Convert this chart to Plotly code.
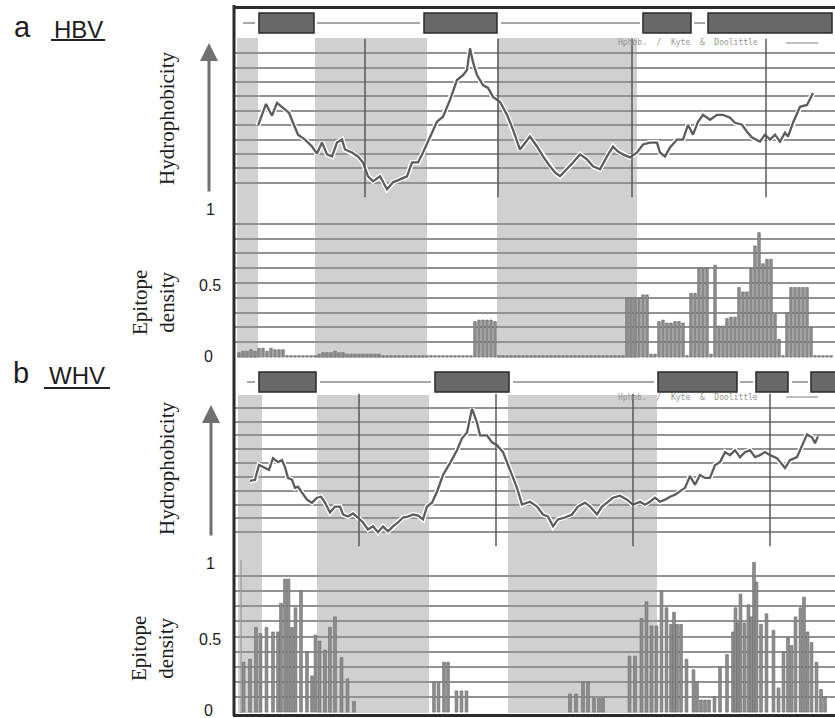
import plotly.graph_objects as go

W, H = 835, 718
def px(x): return x / W
def py(y): return 1 - y / H

# ---------------- data ----------------
# HBV hydrophobicity profile (position, value in grid units 0..11)
hbv_hyd_pos = [258,266,272,277,283,289,293,298,305,312,317,322,327,332,337,342,345,352,358,363,
               368,373,380,383,387,393,400,407,412,418,423,430,437,443,450,457,463,467,470,473,
               477,483,488,493,500,507,513,520,530,537,543,550,555,560,567,573,580,587,593,600,
               607,613,618,623,630,637,643,650,657,660,665,670,677,683,688,693,698,703,710,717,
               723,730,735,742,747,752,760,765,770,775,780,785,788,793,800,807,813]
hbv_hyd_val = [4.97,6.48,5.66,6.55,6.21,5.86,5.17,4.34,4.00,3.52,3.03,3.79,2.97,2.83,3.79,4.00,3.31,3.10,2.83,2.41,
               1.45,1.10,1.45,1.10,0.55,1.03,1.24,1.45,2.41,2.41,3.10,4.21,5.24,5.59,6.76,8.14,8.48,8.83,10.34,9.38,
               8.48,7.79,7.59,6.97,6.62,5.72,4.69,3.31,4.21,3.52,2.83,2.14,1.72,1.45,1.93,2.41,2.97,2.62,2.14,1.93,
               2.83,3.52,3.17,2.97,2.76,3.10,3.66,3.79,3.79,3.10,2.83,3.45,4.00,4.00,5.03,4.34,5.24,5.72,5.38,5.72,
               5.72,5.52,5.17,5.03,4.55,4.14,3.86,4.34,4.00,4.34,3.86,4.48,4.21,5.17,6.28,6.41,7.24]

# WHV hydrophobicity profile
whv_hyd_pos = [250,255,259,263,269,273,278,282,285,288,292,295,298,302,307,312,317,321,325,330,
               335,340,343,348,353,358,363,368,373,378,383,388,393,398,403,408,413,418,423,427,
               432,437,443,450,457,462,467,472,477,480,487,492,497,503,510,517,522,530,537,543,
               548,553,558,565,572,578,585,590,597,602,607,613,620,627,633,640,645,650,655,660,
               665,670,675,680,685,690,695,700,705,710,715,720,725,730,735,740,745,750,755,760,
               765,770,777,785,790,797,802,807,812,815,818]
whv_hyd_val = [4.71,4.79,5.86,5.71,5.50,6.36,6.07,6.21,5.71,4.93,4.79,4.21,4.29,3.86,3.36,3.14,3.50,3.57,3.14,2.43,
               2.86,2.86,2.29,2.14,2.36,2.07,1.71,1.21,1.43,1.00,1.43,1.07,1.43,1.71,2.07,2.14,2.29,2.21,1.93,2.86,
               3.14,3.93,5.14,6.00,6.93,7.79,8.21,9.93,8.93,8.00,8.00,7.50,7.29,6.79,5.50,4.21,3.00,3.21,2.86,2.29,
               2.14,1.43,1.93,2.07,2.29,2.86,3.14,2.86,2.29,2.86,3.14,3.50,3.64,3.36,3.00,3.21,3.00,3.21,3.50,3.21,
               3.36,3.57,3.71,3.93,4.21,5.07,4.43,5.14,4.93,4.93,5.86,6.07,6.79,6.57,6.93,6.43,6.79,6.93,6.43,6.57,
               6.79,6.57,6.36,5.64,6.21,6.43,7.29,8.07,7.86,7.43,7.93]

# HBV epitope density: windows every 4 positions starting at 239
hbv_epi_start = 239
hbv_epi_step = 4
hbv_epi_val = [0.03,0.04,0.04,0.05,0.04,0.06,0.06,0.04,0.06,0.05,0.05,0.05,
               0.01,0.01,0.01,0.01,0.01,0.01,0.01,0.01,
               0.02,0.03,0.03,0.03,0.04,0.03,0.03,0.02,0.02,0.02,0.02,0.02,0.02,0.02,0.02,0.02,0.01,
               0.01,0.01,0.01,0.01,0.01,0.01,0.01,0.01,0.01,0.01,0.01,0.01,0.01,0.01,0.01,0.01,0.01,0.01,0.01,0.01,0.01,0.01,
               0.24,0.25,0.25,0.25,0.25,0.24,
               0.01,0.01,0.01,0.01,0.01,0.01,0.01,0.01,0.01,0.01,0.01,0.01,0.01,0.01,0.01,0.01,
               0.01,0.01,0.01,0.01,0.01,0.01,0.01,0.01,0.01,0.01,0.01,0.01,0.01,0.01,0.01,0.01,
               0.40,0.40,0.40,0.40,0.42,0.42,
               0.02,0.02,
               0.24,0.25,0.23,0.23,0.24,0.24,0.23,
               0.01,
               0.43,0.43,
               0.60,0.60,0.60,
               0.02,
               0.62,
               0.21,0.21,0.26,0.27,0.27,
               0.47,0.44,0.44,0.60,0.75,0.84,0.63,0.66,0.66,0.29,0.12,
               0.01,
               0.30,
               0.47,0.47,0.47,0.47,0.47,
               0.20,
               0.01,0.01,0.01,0.01,0.01]

# WHV epitope density
whv_epi_pos = [243.5,250,256,260.5,266.5,273,278,281,285,288.5,292,295.5,301,307,312,315.5,319.5,325,330,335,341.5,347.5,354,
               434,438.5,444,448,456.5,461.5,466.5,
               570,576,583,588,594,599,603,
               629.5,635,641.5,646.5,651.5,656.5,661.5,666.5,671,674,677,681,686.5,693.5,697,701,705,709,714.5,720,727,
               733,735.5,738,740.5,744.5,748.5,751.5,754,756.5,761,766.5,773.5,778.5,783.5,788,791.5,795.5,800.5,804,
               807.5,811.5,816.5,821,825]
whv_epi_val = [0.33,0.35,0.56,0.52,0.56,0.53,0.53,0.72,0.88,0.88,0.56,0.69,0.80,0.40,0.24,0.51,0.47,0.41,0.56,0.63,0.36,0.22,0.07,
               0.20,0.20,0.33,0.33,0.14,0.14,0.14,
               0.12,0.12,0.20,0.20,0.09,0.09,0.09,
               0.37,0.37,0.62,0.73,0.57,0.57,0.80,0.69,0.58,0.66,0.58,0.58,0.35,0.28,0.20,0.08,0.08,0.08,0.10,0.30,0.38,
               0.53,0.69,0.59,0.78,0.59,0.71,0.63,0.99,0.86,0.58,0.65,0.54,0.16,0.40,0.49,0.44,0.63,0.69,0.76,
               0.53,0.46,0.33,0.15,0.10]

# shaded (hydrophilic) regions, domain boxes, linker segments, marker positions
hbv_shaded = [(237, 258), (315, 427), (497, 637)]
whv_shaded = [(238, 262), (317, 429), (508, 657)]
hbv_boxes = [(259, 314), (424, 497), (643, 691), (708, 832)]
hbv_links = [(243, 255), (317, 420), (501, 640), (694, 705)]
whv_boxes = [(259, 316), (435, 509), (658, 737), (756, 788), (811, 840)]
whv_links = [(247, 255), (320, 431), (513, 654), (740, 753), (792, 808)]
hbv_marks = [365, 498, 632, 766]
whv_marks = [359, 496, 633, 770]

epi_ticks = ["1", "0.5", "0"]

# ---------------- figure ----------------
GRID = "#929292"
SHADE = "#d0d0d0"
LINE = "#5c5c5c"
BAR = "#8e8e8e"
BAR_EDGE = "#666666"

fig = go.Figure()

def hyd(xs, ys, yax):
    fig.add_trace(go.Scatter(x=xs, y=ys, xaxis="x", yaxis=yax, mode="lines",
                             line=dict(color="white", width=5), hoverinfo="skip"))
    fig.add_trace(go.Scatter(x=xs, y=ys, xaxis="x", yaxis=yax, mode="lines",
                             line=dict(color=LINE, width=2.3)))

hyd(hbv_hyd_pos, hbv_hyd_val, "y")
hyd(whv_hyd_pos, whv_hyd_val, "y3")

hbv_epi_pos = [hbv_epi_start + hbv_epi_step * i for i in range(len(hbv_epi_val))]
fig.add_trace(go.Bar(x=hbv_epi_pos, y=hbv_epi_val, xaxis="x", yaxis="y2", width=2.6,
                     marker=dict(color=BAR, line=dict(color=BAR_EDGE, width=0.6))))
fig.add_trace(go.Bar(x=whv_epi_pos, y=whv_epi_val, xaxis="x", yaxis="y4", width=2.8,
                     marker=dict(color=BAR, line=dict(color=BAR_EDGE, width=0.6))))

shapes = []
for (a, b) in hbv_shaded:
    shapes.append(dict(type="rect", xref="x", yref="paper", x0=a, x1=b, y0=py(358), y1=py(38),
                       fillcolor=SHADE, line=dict(width=0), layer="below"))
for (a, b) in whv_shaded:
    shapes.append(dict(type="rect", xref="x", yref="paper", x0=a, x1=b, y0=py(713), y1=py(395),
                       fillcolor=SHADE, line=dict(width=0), layer="below"))
for m in hbv_marks:
    shapes.append(dict(type="line", xref="x", yref="y", x0=m, x1=m, y0=0, y1=11,
                       line=dict(color="#505050", width=1.4)))
for m in whv_marks:
    shapes.append(dict(type="line", xref="x", yref="y3", x0=m, x1=m, y0=0, y1=11,
                       line=dict(color="#505050", width=1.4)))

def domains(boxes, links, ymid, ytop, ybot):
    for (a, b) in links:
        shapes.append(dict(type="line", xref="x", yref="paper", x0=a, x1=b, y0=py(ymid), y1=py(ymid),
                           line=dict(color="#8a8a8a", width=1.5)))
    for (a, b) in boxes:
        shapes.append(dict(type="rect", xref="x", yref="paper", x0=a, x1=b, y0=py(ybot), y1=py(ytop),
                           fillcolor="#686868", line=dict(color="#2a2a2a", width=1.5)))
domains(hbv_boxes, hbv_links, 23, 13, 33)
domains(whv_boxes, whv_links, 382, 372, 392)

shapes.append(dict(type="line", xref="paper", yref="paper", x0=px(241), x1=px(241), y0=py(713), y1=py(560),
                   line=dict(color="#9a9a9a", width=1.2)))
shapes.append(dict(type="line", xref="paper", yref="paper", x0=px(234), x1=px(234), y0=py(716), y1=py(5),
                   line=dict(color="#2b2b2b", width=3)))
shapes.append(dict(type="line", xref="paper", yref="paper", x0=px(233), x1=1, y0=py(7.5), y1=py(7.5),
                   line=dict(color="#2b2b2b", width=3)))
shapes.append(dict(type="line", xref="paper", yref="paper", x0=px(233), x1=1, y0=py(715.5), y1=py(715.5),
                   line=dict(color="#2b2b2b", width=3)))
shapes.append(dict(type="line", xref="paper", yref="paper", x0=px(51), x1=px(105), y0=py(40), y1=py(40),
                   line=dict(color="#222", width=2)))
shapes.append(dict(type="line", xref="paper", yref="paper", x0=px(44), x1=px(110), y0=py(388), y1=py(388),
                   line=dict(color="#222", width=2)))
for yy in (43, 397):
    shapes.append(dict(type="line", xref="paper", yref="paper", x0=px(786), x1=px(818), y0=py(yy), y1=py(yy),
                       line=dict(color="#a8a8a8", width=1.5)))

ann = []
SANS = "Liberation Sans, Arial, sans-serif"
SERIF = "Liberation Serif, Times New Roman, serif"
def text(x, y, t, size, font=SANS, angle=0, color="#1c1c1c"):
    ann.append(dict(x=px(x), y=py(y), xref="paper", yref="paper", text=t, showarrow=False,
                    xanchor="center", yanchor="middle", textangle=angle,
                    font=dict(family=font, size=size, color=color)))

text(22, 27, "a", 29)
text(78, 29, "HBV", 24)
text(21, 373, "b", 29)
text(77, 375, "WHV", 24)
text(167, 119, "Hydrophobicity", 21, SERIF, -90)
text(167, 469, "Hydrophobicity", 21, SERIF, -90)
text(153, 303, "Epitope<br>density", 21, SERIF, -90)
text(152, 649, "Epitope<br>density", 21, SERIF, -90)
for (lab, ya, yb, xx) in zip(epi_ticks, [209, 285, 356], [563, 639, 710], [210, 210, 208]):
    text(xx, ya, lab, 16)
    text(xx, yb, lab, 16)
text(688, 43, "Hphob.  /  Kyte  &  Doolittle", 8, "DejaVu Sans Mono, monospace", 0, "#959595")
text(688, 397, "Hphob.  /  Kyte  &  Doolittle", 8, "DejaVu Sans Mono, monospace", 0, "#959595")

for (xh, yh, length) in [(209, 43, 150), (211, 405, 132)]:
    ann.append(dict(x=px(xh), y=py(yh), xref="paper", yref="paper", text="", showarrow=True,
                    ax=0, ay=length, arrowhead=2, arrowsize=1.2, arrowwidth=3, arrowcolor="#707070",
                    standoff=0, startstandoff=0))

def yax(dom_bottom, dom_top, rng, vals):
    return dict(domain=[py(dom_bottom), py(dom_top)], range=rng, tickvals=vals, showgrid=True,
                gridcolor=GRID, gridwidth=1.6, showticklabels=False, zeroline=False, ticks="",
                showline=False, anchor="x", fixedrange=True)

hyd_ticks = list(range(12))
epi_grid = [0, 0.1, 0.2, 0.3, 0.4, 0.5, 0.6, 0.7, 0.8, 0.9, 1.0]

fig.update_layout(
    width=W, height=H, margin=dict(l=0, r=0, t=0, b=0),
    paper_bgcolor="white", plot_bgcolor="rgba(0,0,0,0)", showlegend=False, barmode="overlay",
    xaxis=dict(domain=[px(235), 1], range=[235, 835], showgrid=False, showticklabels=False,
               zeroline=False, ticks="", showline=False, anchor="y", fixedrange=True),
    yaxis=yax(198, 38, [-0.06, 11.06], hyd_ticks),
    yaxis2=yax(358, 208, [-0.006, 1.006], epi_grid),
    yaxis3=yax(547, 393, [-0.06, 11.06], hyd_ticks),
    yaxis4=yax(713, 560, [-0.006, 1.006], epi_grid),
    shapes=shapes, annotations=ann,
)

fig.write_html("out.html")
